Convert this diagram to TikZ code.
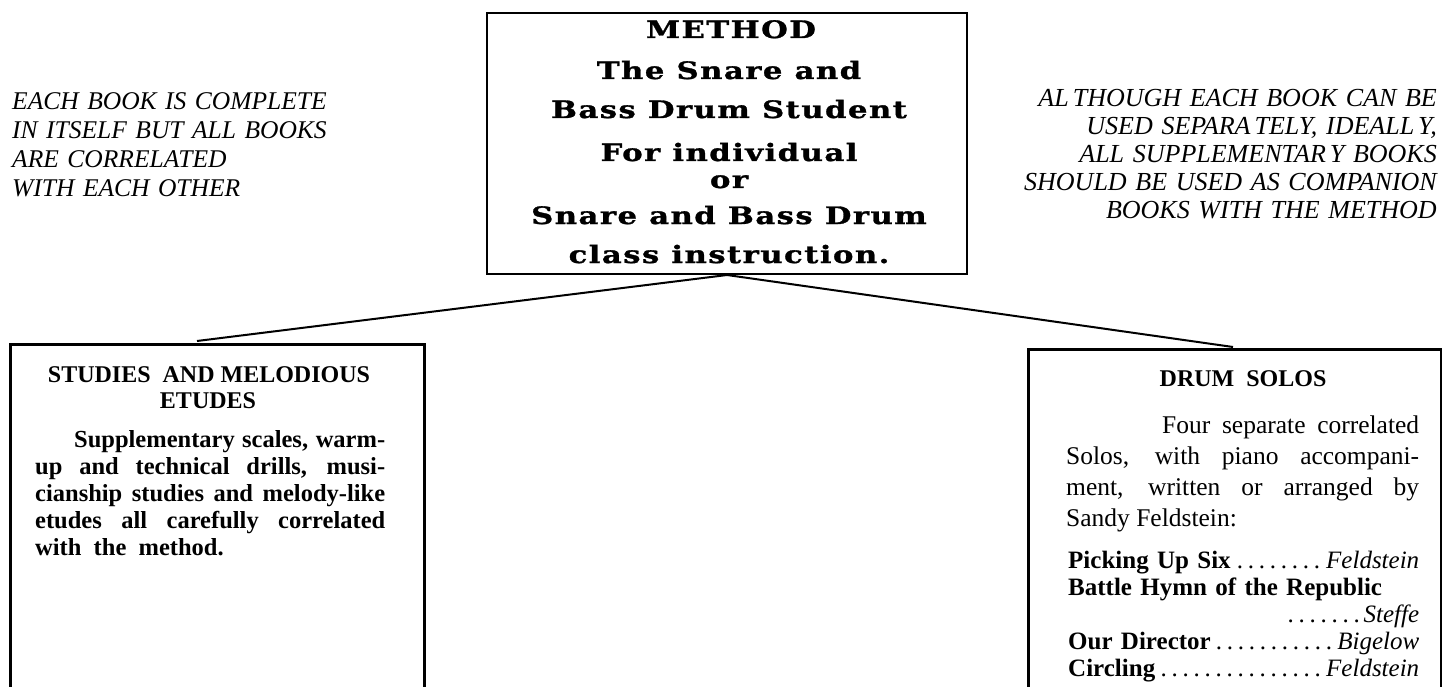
\documentclass[tikz,border=0pt]{standalone}
\usepackage{fontspec}
\setmainfont{Liberation Serif}
\newfontfamily\methodfont{DejaVu Serif}[FakeStretch=1.28,LetterSpace=6,FakeBold=1.2]
\tikzset{
  box/.style={draw, line width=2.5pt, inner sep=0pt},
  link/.style={line width=2pt},
  mtext/.style={font={\methodfont\bfseries\fontsize{24}{24}\selectfont}, anchor=base, inner sep=0pt},
  leftside/.style={font={\itshape\fontsize{25.5}{28.7}\selectfont}, inner sep=0pt},
  rightside/.style={font={\itshape\fontsize{26}{28}\selectfont}, inner sep=0pt},
  head/.style={font={\bfseries\fontsize{24}{26}\selectfont}, anchor=base, inner sep=0pt},
  studypara/.style={font={\bfseries\fontsize{24.5}{27}\selectfont}, inner sep=0pt, anchor=base west},
  solopara/.style={font={\fontsize{25.5}{31}\selectfont}, inner sep=0pt, anchor=base west},
  sololist/.style={font={\bfseries\fontsize{25}{27}\selectfont}, inner sep=0pt, anchor=base west},
}
\newcommand{\who}[1]{{\mdseries\itshape #1}}
\newcommand{\leaderdots}{{\mdseries\dotfill}}
\newcommand{\gp}{\kern4pt}
\begin{document}
\begin{tikzpicture}[x=1pt,y=-1pt]
\path[use as bounding box, clip] (0,0) rectangle (1442,687);
\fill[white] (0,0) rectangle (1442,687);

% boxes
\node[box, minimum width=480pt, minimum height=261pt] (method) at (727,143.5) {};
\node[box, minimum width=414pt, minimum height=420pt, anchor=north west] (studies) at (9,343) {};
\node[box, minimum width=413pt, minimum height=420pt, anchor=north west] (solos) at (1027,348) {};

% connectors
\coordinate (apex) at (727,275);
\coordinate (sjoin) at (197,341);
\coordinate (djoin) at (1233,347);
\draw[link] (apex) -- (sjoin);
\draw[link] (apex) -- (djoin);

% method text
\node[mtext] (m1) at (731,38) {METHOD};
\node[mtext] (m2) at (729,79) {The Snare and};
\node[mtext] (m3) at (729,118) {Bass Drum Student};
\node[mtext] (m4) at (729,161) {For individual};
\node[mtext] (m5) at (729,188) {or};
\node[mtext] (m6) at (729,224) {Snare and Bass Drum};
\node[mtext] (m7) at (729,263) {class instruction.};

% side notes
\node[leftside, text width=380pt, align=left, anchor=base west] (leftnote) at (12,110)
  {EACH BOOK IS COMPLETE\\IN ITSELF BUT ALL BOOKS\\ARE CORRELATED\\WITH EACH OTHER};
\node[rightside, text width=470pt, align=right, anchor=base east] (rightnote) at (1437,107)
  {AL\gp THOUGH EACH BOOK CAN BE\\USED SEPARA\gp TELY, IDEALL\gp Y,\\ALL SUPPLEMENTAR\gp Y BOOKS\\SHOULD BE USED AS COMPANION\\BOOKS WITH THE METHOD};

% studies box
\node[head] (sh1) at (209,382) {STUDIES\ \ AND MELODIOUS};
\node[head] (sh2) at (208,408) {ETUDES};
\node[studypara, text width=350pt, align=justify] (stext) at (35,447)
  {\hspace*{39pt}Supplementary scales, warm-\linebreak up and technical drills, musi-\linebreak cianship studies and melody-like\linebreak etudes all carefully correlated\linebreak with\ \ the\ \ method.};

% solos box
\node[head] (dh) at (1243,386) {DRUM\ \ SOLOS};
\node[solopara, text width=353pt, align=justify] (dtext) at (1066,433)
  {\hspace*{96pt}Four separate correlated\linebreak Solos, with piano accompani-\linebreak ment, written or arranged by\linebreak Sandy Feldstein:};
\node[sololist, text width=351pt] (dlist) at (1068,568)
  {Picking Up Six\leaderdots\who{Feldstein}\\
   Battle Hymn of the Republic\\
   \hspace*{\fill}\hbox to 80pt{\leaderdots}\who{Steffe}\\
   Our Director\leaderdots\who{Bigelow}\\
   Circling\leaderdots\who{Feldstein}};
\end{tikzpicture}
\end{document}
